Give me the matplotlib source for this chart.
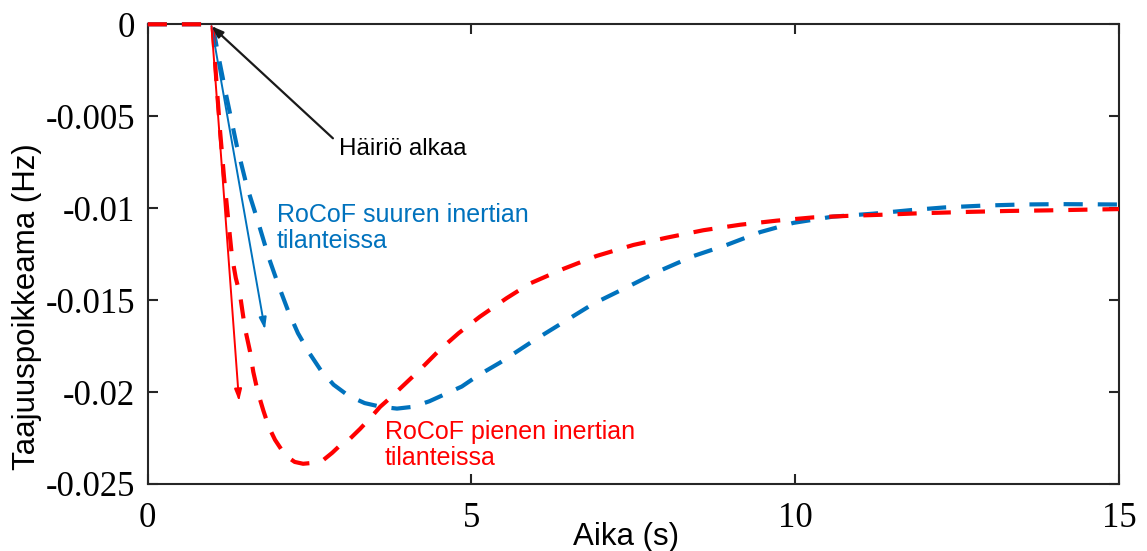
import matplotlib
matplotlib.use("Agg")
import matplotlib.pyplot as plt

plt.rcParams['axes.unicode_minus'] = False

# ---- data ----
t_low = [0, 1.0, 1.066, 1.117, 1.178, 1.245, 1.30, 1.36, 1.425, 1.50, 1.58, 1.63, 1.70,
         1.785, 1.87, 1.966, 2.06, 2.147, 2.27, 2.40, 2.55, 2.71, 2.85, 2.97, 3.12, 3.28,
         3.44, 3.59, 3.75, 3.9, 4.2, 4.51, 4.8, 5.13, 5.54, 5.9, 6.42, 6.93, 7.5, 8.02,
         8.58, 9.15, 9.71, 10.28, 10.8, 11.4, 11.9, 12.7, 13.3, 13.9, 14.5, 15.0]
f_low = [0, 0, -0.0034, -0.0058, -0.0083, -0.0107, -0.0126, -0.0138, -0.0147, -0.0165,
         -0.0178, -0.0189, -0.0200, -0.0210, -0.0219, -0.0226, -0.0231, -0.0235, -0.0238,
         -0.0239, -0.02385, -0.0237, -0.0233, -0.0229, -0.02255, -0.0220, -0.0214, -0.0208,
         -0.0203, -0.0198, -0.0188, -0.0177, -0.0168, -0.0159, -0.0149, -0.0141, -0.0133,
         -0.0126, -0.0120, -0.0116, -0.0112, -0.0109, -0.01068, -0.0105, -0.01042,
         -0.01035, -0.01028, -0.0102, -0.01015, -0.01012, -0.01008, -0.01005]

t_high = [0, 1.0, 1.09, 1.22, 1.375, 1.53, 1.70, 1.87, 2.02, 2.17, 2.32, 2.5, 2.67, 2.87,
          3.1, 3.35, 3.6, 3.85, 4.1, 4.35, 4.6, 4.85, 5.1, 5.44, 5.96, 6.42, 6.88, 7.4,
          7.91, 8.43, 8.94, 9.46, 9.97, 10.58, 11.2, 11.8, 12.3, 12.9, 13.5, 14.1, 14.6, 15.0]
f_high = [0, 0, -0.0017, -0.0040, -0.0066, -0.0088, -0.0107, -0.0127, -0.0142, -0.0156,
          -0.0168, -0.0179, -0.0188, -0.0196, -0.0202, -0.0206, -0.0208, -0.0209, -0.0208,
          -0.0205, -0.0201, -0.0197, -0.0191, -0.0184, -0.0172, -0.0162, -0.0152, -0.0143,
          -0.0134, -0.0126, -0.0120, -0.0113, -0.0108, -0.01046, -0.0103, -0.0101,
          -0.00996, -0.00986, -0.0098, -0.00978, -0.00979, -0.0098]

x_ticks = [0, 5, 10, 15]
y_ticks = [0, -0.005, -0.01, -0.015, -0.02, -0.025]
y_ticklabels = ['0', '-0.005', '-0.01', '-0.015', '-0.02', '-0.025']

xlabel = 'Aika (s)'
ylabel = 'Taajuuspoikkeama (Hz)'
txt_start = 'Häiriö alkaa'
txt_high = 'RoCoF suuren inertian\ntilanteissa'
txt_low = 'RoCoF pienen inertian\ntilanteissa'

# annotation anchors (data coords)
start_pt = (0.985, -0.0001)
start_txt_tail = (2.86, -0.0062)
start_txt_pos = (2.95, -0.0068)
high_arrow_head = (1.81, -0.0166)
high_txt_pos = (1.99, -0.0111)
low_arrow_head = (1.41, -0.0205)
low_txt_pos = (3.665, -0.0229)

BLUE = '#0072BD'
RED = '#FF0000'
AX = '#262626'

fig = plt.figure(figsize=(11.47, 5.51), dpi=100)
ax = fig.add_axes([0.1288, 0.1216, 0.8468, 0.8343])

dash = (0, (4.6, 3.6))
ax.plot(t_high, f_high, color=BLUE, lw=3, linestyle=dash, clip_on=False, zorder=3,
        dash_joinstyle='round')
ax.plot(t_low, f_low, color=RED, lw=3, linestyle=dash, clip_on=False, zorder=3.1,
        dash_joinstyle='round')

ax.set_xlim(0, 15)
ax.set_ylim(-0.025, 0)
ax.set_xticks(x_ticks)
ax.set_xticklabels([str(v) for v in x_ticks])
ax.set_yticks(y_ticks)
ax.set_yticklabels(y_ticklabels)

for s in ax.spines.values():
    s.set_linewidth(1.5)
    s.set_color(AX)

ax.tick_params(direction='in', length=7, width=1.5, color=AX, top=True, right=True,
               labelsize=25, labelcolor='black')
ax.tick_params(axis='y', pad=9)
ax.tick_params(axis='x', pad=13)
for lab in ax.get_xticklabels() + ax.get_yticklabels():
    lab.set_fontfamily('Liberation Serif')

ax.set_xlabel(xlabel, fontsize=22.5, fontfamily='Liberation Sans', color='black')
ax.set_ylabel(ylabel, fontsize=22.5, fontfamily='Liberation Sans', color='black')
ax.xaxis.set_label_coords(0.492, -0.115)
ax.xaxis.label.set_va('center')
ax.yaxis.set_label_coords(-0.1243, 0.3857)
ax.yaxis.label.set_va('center')

# arrows
ax.annotate('', xy=start_pt, xytext=start_txt_tail,
            arrowprops=dict(arrowstyle='-|>,head_length=0.7,head_width=0.25',
                            color='#1a1a1a', lw=1.6, shrinkA=0, shrinkB=0), zorder=5)
ax.annotate('', xy=high_arrow_head, xytext=start_pt,
            arrowprops=dict(arrowstyle='-|>,head_length=0.7,head_width=0.22',
                            color=BLUE, lw=1.4, shrinkA=0, shrinkB=0), zorder=5)
ax.annotate('', xy=low_arrow_head, xytext=start_pt,
            arrowprops=dict(arrowstyle='-|>,head_length=0.7,head_width=0.22',
                            color=RED, lw=1.4, shrinkA=0, shrinkB=0), zorder=5)

ax.text(*start_txt_pos, txt_start, fontsize=17.5, fontfamily='Liberation Sans',
        color='black', ha='left', va='center')
ax.text(*high_txt_pos, txt_high, fontsize=18, fontfamily='Liberation Sans',
        color=BLUE, ha='left', va='center', linespacing=1.1)
ax.text(*low_txt_pos, txt_low, fontsize=18, fontfamily='Liberation Sans',
        color=RED, ha='left', va='center', linespacing=1.1)

fig.savefig('out.png', dpi=100)
